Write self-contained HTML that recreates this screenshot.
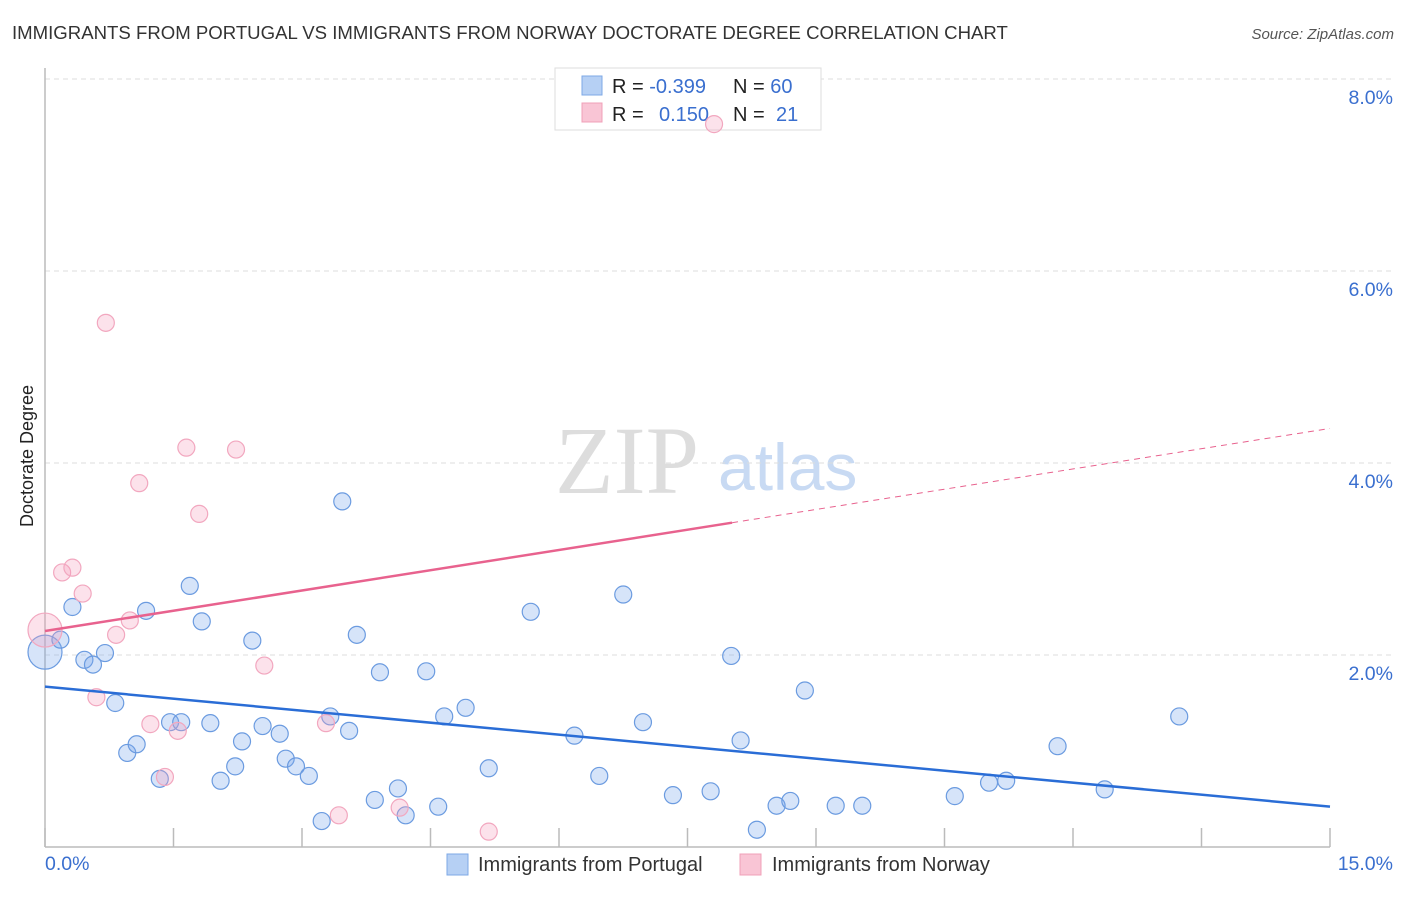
<!DOCTYPE html>
<html><head><meta charset="utf-8"><style>
body{margin:0;background:#fff;font-family:"Liberation Sans",sans-serif}
svg text{font-family:"Liberation Sans",sans-serif}
</style></head><body>
<svg id="c" width="1406" height="892" xmlns="http://www.w3.org/2000/svg">
<text x="12" y="39" font-size="18.6" fill="#333">IMMIGRANTS FROM PORTUGAL VS IMMIGRANTS FROM NORWAY DOCTORATE DEGREE CORRELATION CHART</text>
<text x="1394" y="39" font-size="15" fill="#555" font-style="italic" text-anchor="end">Source: ZipAtlas.com</text>
<text x="0" y="0" font-size="18" fill="#222" transform="translate(33,456) rotate(-90)" text-anchor="middle">Doctorate Degree</text>
<text x="555" y="493" font-size="96" fill="#ddd" style="font-family:'Liberation Serif',serif">ZIP</text>
<text x="718" y="490" font-size="66" fill="#c8daf3">atlas</text>
<g id="grid"></g>
<g>
<rect x="555" y="68" width="266" height="62" fill="#fff" stroke="#ddd"/>
<rect x="582" y="76" width="20" height="19" fill="#b6d0f4" stroke="#7ea8e6"/>
<rect x="582" y="103" width="20" height="19" fill="#f9c5d5" stroke="#f0a0b8"/>
<text x="612" y="93" font-size="20" fill="#222">R = <tspan fill="#3a6fcf">-0.399</tspan></text>
<text x="733" y="93" font-size="20" fill="#222">N = <tspan fill="#3a6fcf">60</tspan></text>
<text x="612" y="121" font-size="20" fill="#222">R = <tspan fill="#3a6fcf" x="659">0.150</tspan></text>
<text x="733" y="121" font-size="20" fill="#222">N = <tspan fill="#3a6fcf" x="776">21</tspan></text>
</g>
<g id="marks"></g>
<g>
<rect x="447" y="854" width="21" height="21" fill="#b6d0f4" stroke="#7ea8e6"/>
<text x="478" y="871" font-size="20" fill="#333">Immigrants from Portugal</text>
<rect x="740" y="854" width="21" height="21" fill="#f9c5d5" stroke="#f0a0b8"/>
<text x="772" y="871" font-size="20" fill="#333">Immigrants from Norway</text>
</g>
</svg>
<script>
const blueX=[0,0.18,0.32,0.46,0.56,0.70,0.82,0.96,1.07,1.18,1.34,1.46,1.59,1.69,1.83,1.93,2.05,2.22,2.30,2.42,2.54,2.74,2.81,2.93,3.08,3.23,3.33,3.47,3.55,3.64,3.85,3.91,4.12,4.21,4.45,4.59,4.66,4.91,5.18,5.67,6.18,6.47,6.75,6.98,7.33,7.77,8.01,8.12,8.31,8.54,8.70,8.87,9.23,9.54,10.62,11.02,11.22,11.82,12.37,13.24];
const blueY=[2.03,2.16,2.50,1.95,1.90,2.02,1.50,0.98,1.07,2.46,0.71,1.30,1.30,2.72,2.35,1.29,0.69,0.84,1.10,2.15,1.26,1.18,0.92,0.84,0.74,0.27,1.36,3.60,1.21,2.21,0.49,1.82,0.61,0.33,1.83,0.42,1.36,1.45,0.82,2.45,1.16,0.74,2.63,1.30,0.54,0.58,1.99,1.11,0.18,0.43,0.48,1.63,0.43,0.43,0.53,0.67,0.69,1.05,0.60,1.36];
const pinkX=[0,0.20,0.32,0.44,0.60,0.71,0.83,0.99,1.10,1.23,1.40,1.55,1.65,1.80,2.23,2.56,3.28,3.43,4.14,5.18,7.81];
const pinkY=[2.26,2.86,2.91,2.64,1.56,5.46,2.21,2.36,3.79,1.28,0.73,1.21,4.16,3.47,4.14,1.89,1.29,0.33,0.41,0.16,7.53];
const blueTrend=[1.67,0.42];
const pinkTrend=[2.25,4.36];
const pinkSolidEnd=8.02;
const yTicks=[2,4,6,8];
const NS="http://www.w3.org/2000/svg";
const sx=v=>45+v/15*1285, sy=v=>847-v*96;
function mk(t,a,p){const e=document.createElementNS(NS,t);for(const k in a)e.setAttribute(k,a[k]);p.appendChild(e);return e;}
const g=document.getElementById('grid'), m=document.getElementById('marks');
yTicks.forEach(t=>{
 const l=mk('line',{x1:45,x2:1392,y1:sy(t),y2:sy(t),stroke:'#ddd','stroke-dasharray':'5,4'},g);
 
 
 const tx=mk('text',{x:1393,y:sy(t)+25,'font-size':19.5,fill:'#3a6fcf','text-anchor':'end'},g);
 tx.textContent=t.toFixed(1)+'%';
 
 
});
mk('line',{x1:45,x2:45,y1:68,y2:847,stroke:'#bbb','stroke-width':1.5},g);
mk('line',{x1:45,x2:1330,y1:847,y2:847,stroke:'#bbb','stroke-width':1.5},g);
for(let i=0;i<=10;i++){const x=sx(i*1.5);mk('line',{x1:x,x2:x,y1:828,y2:847,stroke:'#bbb','stroke-width':1.5},g);}
const x0=mk('text',{x:45,y:870,'font-size':19.5,fill:'#3a6fcf'},g);x0.textContent='0.0%';


const x1=mk('text',{x:1393,y:870,'font-size':19.5,fill:'#3a6fcf','text-anchor':'end'},g);x1.textContent='15.0%';


blueX.forEach((v,i)=>{
 const c=mk('circle',{cx:sx(v),cy:sy(blueY[i]),r:i===0?17:8.5,fill:'rgba(120,165,235,0.3)',stroke:'#6b9be0','stroke-width':1.2},m);
 
 
});
pinkX.forEach((v,i)=>{
 const c=mk('circle',{cx:sx(v),cy:sy(pinkY[i]),r:i===0?17:8.5,fill:'rgba(245,160,190,0.3)',stroke:'#f2a7bf','stroke-width':1.2},m);
 
 
});
const pAt=x=>pinkTrend[0]+(pinkTrend[1]-pinkTrend[0])*x/15;
const bl=mk('line',{x1:sx(0),y1:sy(blueTrend[0]),x2:sx(15),y2:sy(blueTrend[1]),stroke:'#2a6dd6','stroke-width':2.5},m);


const pl=mk('line',{x1:sx(0),y1:sy(pAt(0)),x2:sx(pinkSolidEnd),y2:sy(pAt(pinkSolidEnd)),stroke:'#e8628e','stroke-width':2.5},m);


const pd=mk('line',{x1:sx(pinkSolidEnd),y1:sy(pAt(pinkSolidEnd)),x2:sx(15),y2:sy(pAt(15)),stroke:'#e8628e','stroke-width':1,'stroke-dasharray':'6,5'},m);


</script>
</body></html>
